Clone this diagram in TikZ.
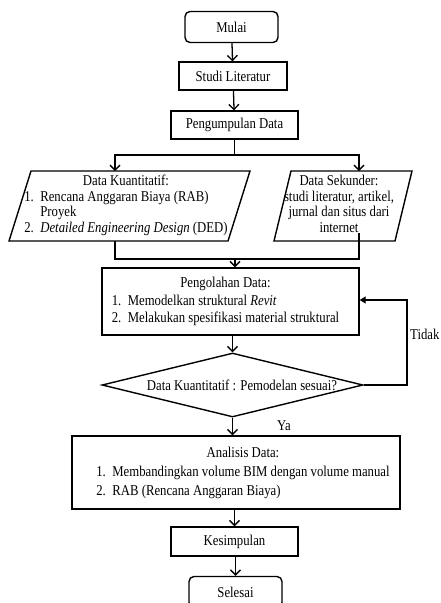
\documentclass[tikz,border=0pt]{standalone}
\usepackage{fontspec}
\setmainfont[FakeStretch=0.85]{Liberation Serif}
\usetikzlibrary{shapes.geometric,arrows.meta}
\newcommand\itm[1]{\makebox[16pt][l]{#1}}
\begin{document}
\begin{tikzpicture}[x=1pt,y=-1pt,
  every node/.style={font=\fontsize{15}{15.5}\selectfont, inner sep=0pt},
  term/.style={draw,line width=1.4pt,rounded corners=5pt},
  proc/.style={draw,line width=1.4pt},
  conn/.style={line width=1.3pt},
  arr/.style={conn,-{Straight Barb[length=5pt,width=10pt]}},
  fbarr/.style={conn,-{Triangle[length=6pt,width=7pt]}},
]
\useasboundingbox (0,0) rectangle (441,603);
\clip (0,0) rectangle (441,603);

% terminals and processes
\node[term, minimum width=93pt, minimum height=31pt] (mulai) at (231.5,27) {Mulai};
\node[proc, minimum width=108pt, minimum height=28pt] (studi) at (233,76) {Studi Literatur};
\node[proc, minimum width=127pt, minimum height=28pt] (kumpul) at (234.5,125) {Pengumpulan Data};

% parallelograms
\draw[line width=1.4pt] (31,171) -- (250,171) -- (228,241) -- (9,241) -- cycle;
\draw[line width=1.4pt] (291,171) -- (412,171) -- (395,241) -- (274,241) -- cycle;
\node (kuant) at (126,206) {\begin{tabular}{@{}l@{}}
\multicolumn{1}{@{}c@{}}{Data Kuantitatif:}\\
\itm{1.}Rencana Anggaran Biaya (RAB)\\
\itm{}Proyek\\
\itm{2.}\textit{Detailed Engineering Design} (DED)
\end{tabular}};
\node (sekunder) at (339,206) {\begin{tabular}{@{}c@{}}
Data Sekunder:\\
studi literatur, artikel,\\
jurnal dan situs dari\\
internet
\end{tabular}};

\coordinate (split) at (234.5,155);
\coordinate (kTop) at (115,171);
\coordinate (sTop) at (359,171);
\coordinate (kBot) at (115,241);
\coordinate (sBot) at (359,233);
\coordinate (join) at (235,259);

\node[proc, minimum width=257pt, minimum height=67pt] (olah) at (230.5,301.5)
 {\kern-10pt\fontsize{15}{17.5}\selectfont\begin{tabular}{@{}l@{}}
\multicolumn{1}{@{}c@{}}{Pengolahan Data:}\\
\itm{1.}Memodelkan struktural \textit{Revit}\\
\itm{2.}Melakukan spesifikasi material struktural
\end{tabular}};

\node[diamond, draw, line width=1.4pt, minimum width=261pt, minimum height=64pt] (dec) at (232.5,385) {};
\node (dectext) at (242,385) {Data Kuantitatif : Pemodelan sesuai?};

\node[proc, minimum width=328pt, minimum height=73pt] (ana) at (236,472.5)
 {\kern14pt\fontsize{15}{19}\selectfont\begin{tabular}{@{}l@{}}
\multicolumn{1}{@{}c@{}}{Analisis Data:}\\
\itm{1.}Membandingkan volume BIM dengan volume manual\\
\itm{2.}RAB (Rencana Anggaran Biaya)
\end{tabular}};

\node[proc, minimum width=127pt, minimum height=29pt] (simpul) at (234.5,541.5) {Kesimpulan};
\node[term, minimum width=93pt, minimum height=31pt] (selesai) at (235.5,592) {Selesai};

\node[anchor=west] (tidak) at (410,334) {Tidak};
\node (ya) at (284,426) {Ya};

% connectors
\draw[arr] (mulai) -- (studi);
\draw[arr] (studi) -- (kumpul);
\draw[conn] (kumpul.south) -- (split);
\draw[arr] (split) -| (kTop);
\draw[arr] (split) -| (sTop);
\draw[conn] (kBot) |- (join) -| (sBot);
\draw[arr] (join) -- (join |- olah.north);
\draw[arr] (olah.south -| dec.north) -- (dec.north);
\coordinate (fb) at (407,300);
\draw[fbarr] (dec.east) -| (fb) -- (fb -| olah.east);
\draw[arr] (dec.south) -- (dec.south |- ana.north);
\draw[arr] (ana.south -| simpul.north) -- (simpul.north);
\draw[arr] (simpul.south -| selesai.north) -- (selesai.north);
\end{tikzpicture}
\end{document}
